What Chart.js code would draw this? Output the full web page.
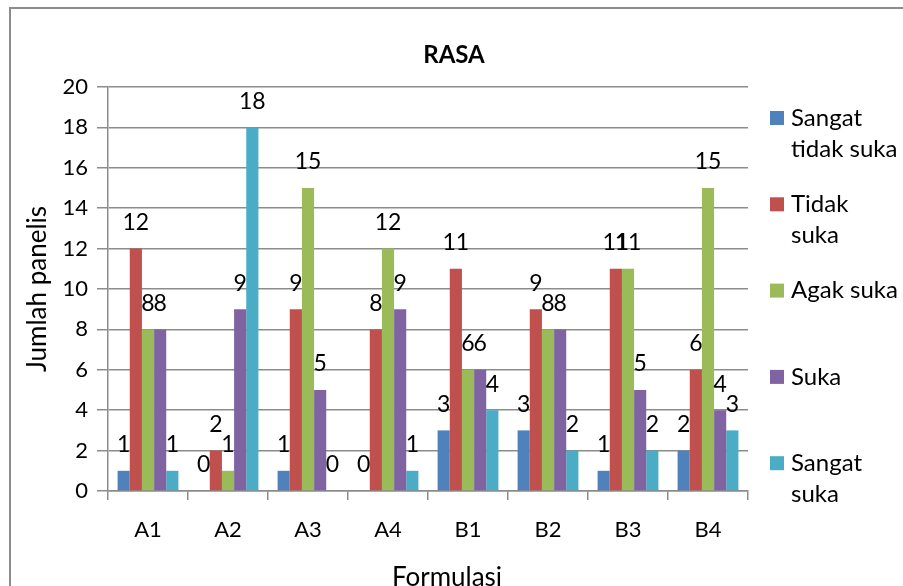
<!DOCTYPE html>
<html lang="en">

<head>
    <meta charset="UTF-8">
    <title>RASA</title>
    <script src="https://cdn.jsdelivr.net/npm/chart.js@4.4.0/dist/chart.umd.min.js"></script>
    <style>
        body { margin: 0; background: #fff; }
    </style>
</head>

<body>
    <canvas id="myChart" width="903" height="586"></canvas>
    <script>
        const formulasi = ['A1', 'A2', 'A3', 'A4', 'B1', 'B2', 'B3', 'B4'];
        const seriesNames = ['Sangat\ntidak suka', 'Tidak\nsuka', 'Agak suka', 'Suka', 'Sangat\nsuka'];
        const sangatTidakSuka = [1, 0, 1, 0, 3, 3, 1, 2];
        const tidakSuka = [12, 2, 9, 8, 11, 9, 11, 6];
        const agakSuka = [8, 1, 15, 12, 6, 8, 11, 15];
        const suka = [8, 9, 5, 9, 6, 8, 5, 4];
        const sangatSuka = [1, 18, 0, 1, 4, 2, 2, 3];
        const yTicks = [0, 2, 4, 6, 8, 10, 12, 14, 16, 18, 20];
        const chartTitle = 'RASA';
        const xTitle = 'Formulasi';
        const yTitle = 'Jumlah panelis';

        const colors = ['#4F81BD', '#C0504D', '#9BBB59', '#8064A2', '#4BACC6'];
        const allSeries = [sangatTidakSuka, tidakSuka, agakSuka, suka, sangatSuka];
        const FONT = 'Lato';
        const gridColor = '#8c8c8c';

        // frame round the chart (the picture is cropped at right and bottom), titles
        const framePlugin = {
            id: 'frame',
            beforeDraw(chart) {
                const c = chart.ctx;
                c.save();
                c.strokeStyle = '#8c8c8c';
                c.lineWidth = 2;
                c.strokeRect(10, 8, 1000, 700);
                c.fillStyle = '#000';
                c.textAlign = 'center';
                c.textBaseline = 'middle';
                c.font = 'bold 24px ' + FONT;
                c.fillText(chartTitle, 454, 55);
                c.font = '26px ' + FONT;
                c.fillText(xTitle, 447, 578);
                c.translate(38, 289);
                c.rotate(-Math.PI / 2);
                c.fillText(yTitle, 0, 0);
                c.restore();
            }
        };

        // value labels above each bar
        const valueLabels = {
            id: 'valueLabels',
            afterDatasetsDraw(chart) {
                const c = chart.ctx;
                c.save();
                c.font = '23px ' + FONT;
                c.fillStyle = '#000';
                c.textAlign = 'center';
                c.textBaseline = 'middle';
                chart.data.datasets.forEach(function (ds, i) {
                    chart.getDatasetMeta(i).data.forEach(function (bar, j) {
                        c.fillText(String(ds.data[j]), bar.x, bar.y - 26);
                    });
                });
                c.restore();
            }
        };

        // legend on the right with wrapped labels
        const sideLegend = {
            id: 'sideLegend',
            afterDraw(chart) {
                const c = chart.ctx;
                c.save();
                c.font = '24px ' + FONT;
                c.textBaseline = 'middle';
                chart.data.datasets.forEach(function (ds, i) {
                    const y = 118 + i * 86.3;
                    c.fillStyle = ds.backgroundColor;
                    c.fillRect(770, y - 7, 14, 14);
                    c.fillStyle = '#000';
                    ds.label.split('\n').forEach(function (line, k) {
                        c.fillText(line, 791, y + k * 31);
                    });
                });
                c.restore();
            }
        };

        const ctx = document.getElementById('myChart').getContext('2d');
        const myChart = new Chart(ctx, {
            type: 'bar',
            data: {
                labels: formulasi,
                datasets: allSeries.map(function (values, i) {
                    return {
                        label: seriesNames[i],
                        data: values,
                        backgroundColor: colors[i],
                        borderWidth: 0,
                        categoryPercentage: 0.76,
                        barPercentage: 1
                    };
                })
            },
            options: {
                responsive: false,
                animation: false,
                layout: { padding: { left: 10, right: 155, top: 87, bottom: 0 } },
                plugins: {
                    legend: { display: false },
                    tooltip: { enabled: false },
                    title: { display: false }
                },
                scales: {
                    x: {
                        grid: {
                            offset: true,
                            drawOnChartArea: false,
                            color: gridColor,
                            lineWidth: 1.5,
                            tickLength: 9
                        },
                        border: { color: gridColor, width: 1.5 },
                        ticks: {
                            color: '#000',
                            font: { family: FONT, size: 22 },
                            padding: 17
                        },
                        afterFit: function (s) { s.height = 95; }
                    },
                    y: {
                        min: 0,
                        max: 20,
                        afterBuildTicks: function (s) {
                            s.ticks = yTicks.map(function (v) { return { value: v }; });
                        },
                        grid: {
                            color: gridColor,
                            lineWidth: 1.5,
                            tickLength: 11
                        },
                        border: { color: gridColor, width: 1.5 },
                        ticks: {
                            color: '#000',
                            font: { family: FONT, size: 22 },
                            padding: 9
                        },
                        afterFit: function (s) { s.width = 98; }
                    }
                }
            },
            plugins: [framePlugin, valueLabels, sideLegend]
        });
    </script>
</body>

</html>
